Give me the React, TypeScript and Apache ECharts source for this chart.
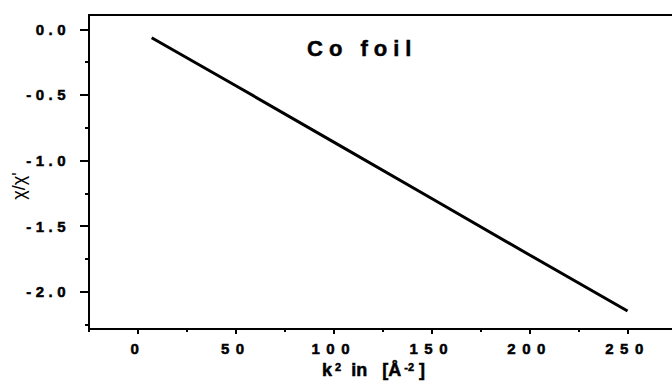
import React, { useEffect, useRef } from 'react';
import * as echarts from 'echarts';

// ---- data ----
const kSquared = [7, 50, 100, 150, 200, 250];
const chiRatio = [-0.064, -0.43, -0.86, -1.29, -1.72, -2.147];

const xMajorTicks = [0, 50, 100, 150, 200, 250];
const xMinorTicks = [-25, 25, 75, 125, 175, 225];
const yMajorTicks = [0, -0.5, -1.0, -1.5, -2.0];
const yMinorTicks = [-0.25, -0.75, -1.25, -1.75, -2.25];

const xRange = [-25, 272.7];
const yRange = [-2.284, 0.109];

const titleText = 'Co foil';
const yNameText = "χ/χ'";
const NB = '\u00A0';
const xNameText = `k{s|${NB}2}${NB}${NB}in${NB}${NB}${NB}[Å{s|${NB}-2}${NB}]`;

const FONT = 'Liberation Sans';

export default function App() {
  const ref = useRef<HTMLDivElement>(null);

  useEffect(() => {
    if (!ref.current) return;
    const chart = echarts.init(ref.current, undefined, { renderer: 'svg' });
    const black = '#000';
    const heavy = { textBorderColor: black, textBorderWidth: 0.5 };

    const option: any = {
      animation: false,
      backgroundColor: '#fff',
      title: {
        text: titleText,
        left: 307,
        top: 37,
        padding: 0,
        textStyle: { fontSize: 22, fontWeight: 'bold', fontFamily: FONT, color: black, ...heavy },
      },
      grid: { left: 89, right: 0, top: 15, bottom: 52, containLabel: false, outerBoundsMode: 'none' },
      xAxis: [
        {
          type: 'value',
          position: 'bottom',
          min: xRange[0],
          max: xRange[1],
          axisLine: { show: true, onZero: false, lineStyle: { color: black, width: 2 } },
          axisTick: { show: true, customValues: xMajorTicks, length: 5, lineStyle: { color: black, width: 2 } },
          axisLabel: {
            show: true,
            customValues: xMajorTicks,
            margin: 12,
            fontSize: 15,
            fontWeight: 'bold',
            fontFamily: FONT,
            color: black,
            ...heavy,
            formatter: (v: number) => String(v),
          },
          splitLine: { show: false },
          name: xNameText,
          nameLocation: 'middle',
          nameGap: 29,
          nameTextStyle: {
            fontSize: 18,
            fontWeight: 'bold',
            fontFamily: FONT,
            color: black,
            ...heavy,
            padding: [0, 14, 0, 0],
            rich: {
              s: { fontSize: 11, fontWeight: 'bold', fontFamily: FONT, color: black, verticalAlign: 'top', ...heavy },
            },
          },
        },
        {
          type: 'value',
          position: 'bottom',
          min: xRange[0],
          max: xRange[1],
          axisLine: { show: false, onZero: false },
          axisTick: { show: true, customValues: xMinorTicks, length: 3, lineStyle: { color: black, width: 2 } },
          axisLabel: { show: false },
          splitLine: { show: false },
        },
        {
          type: 'value',
          position: 'top',
          min: xRange[0],
          max: xRange[1],
          axisLine: { show: true, onZero: false, lineStyle: { color: black, width: 2 } },
          axisTick: { show: false },
          axisLabel: { show: false },
          splitLine: { show: false },
        },
      ],
      yAxis: [
        {
          type: 'value',
          position: 'left',
          min: yRange[0],
          max: yRange[1],
          axisLine: { show: true, onZero: false, lineStyle: { color: black, width: 2 } },
          axisTick: { show: true, customValues: yMajorTicks, length: 9, lineStyle: { color: black, width: 2 } },
          axisLabel: {
            show: true,
            customValues: yMajorTicks,
            margin: 19,
            fontSize: 15,
            fontWeight: 'bold',
            fontFamily: FONT,
            color: black,
            ...heavy,
            formatter: (v: number) => v.toFixed(1),
          },
          splitLine: { show: false },
        },
        {
          type: 'value',
          position: 'left',
          min: yRange[0],
          max: yRange[1],
          axisLine: { show: false, onZero: false },
          axisTick: { show: true, customValues: yMinorTicks, length: 4, lineStyle: { color: black, width: 2 } },
          axisLabel: { show: false },
          splitLine: { show: false },
        },
      ],
      graphic: [
        {
          type: 'text',
          x: 19,
          y: 186,
          rotation: Math.PI / 2,
          style: {
            text: yNameText,
            fill: black,
            font: `18px "${FONT}"`,
            textAlign: 'center',
            textVerticalAlign: 'middle',
            align: 'center',
            verticalAlign: 'middle',
          },
        },
      ],
      series: [
        {
          type: 'line',
          xAxisIndex: 0,
          yAxisIndex: 0,
          data: kSquared.map((k, i) => [k, chiRatio[i]]),
          showSymbol: false,
          symbol: 'none',
          lineStyle: { color: black, width: 3 },
          clip: false,
        },
      ],
    };

    chart.setOption(option);
    return () => chart.dispose();
  }, []);

  return (
    <>
      <style>{`
        body { margin: 0; }
        text[text-anchor="end"][style*="15px"] { letter-spacing: 4.5px; }
        text[text-anchor="middle"][style*="15px"] { letter-spacing: 6.5px; }
        text[style*="22px"] { letter-spacing: 6px; }
      `}</style>
      <div
        ref={ref}
        style={{ position: 'fixed', left: 0, top: 0, width: 672, height: 381, background: '#fff' }}
      />
    </>
  );
}
